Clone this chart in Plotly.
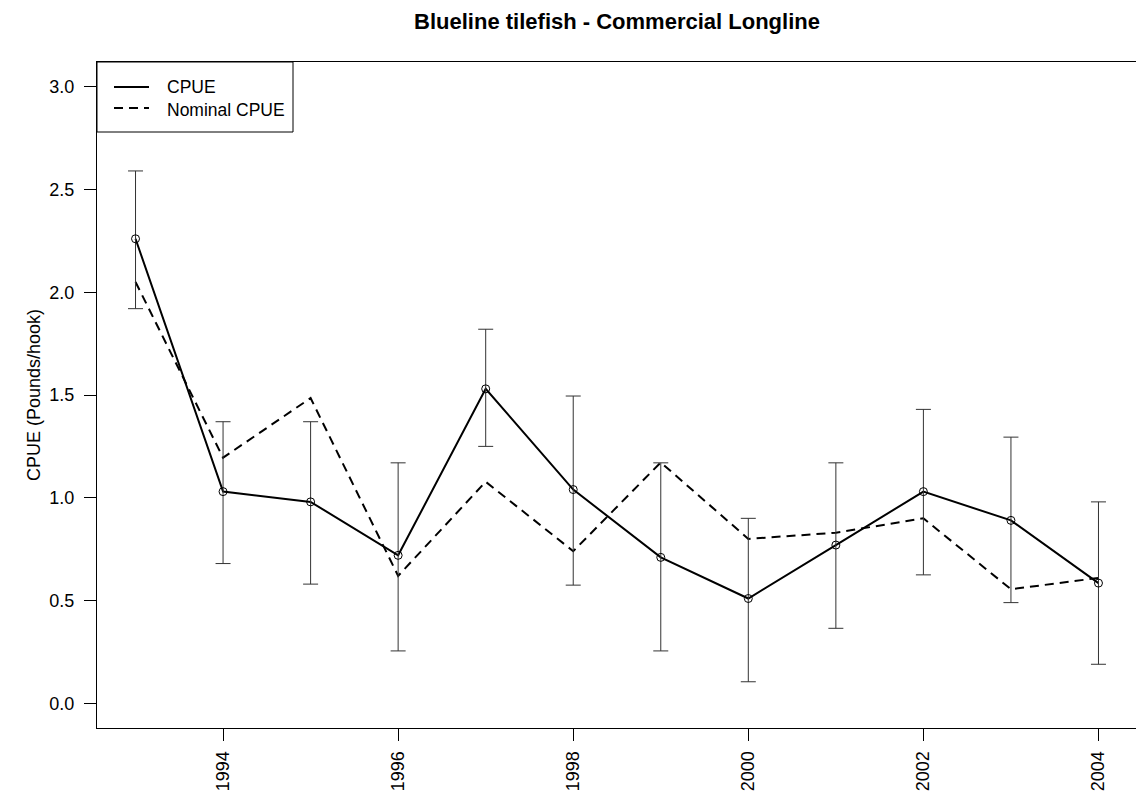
import plotly.graph_objects as go

years = [1993, 1994, 1995, 1996, 1997, 1998, 1999, 2000, 2001, 2002, 2003, 2004]
cpue = [2.26, 1.03, 0.98, 0.72, 1.53, 1.04, 0.71, 0.51, 0.77, 1.03, 0.89, 0.585]
cpue_upper = [2.59, 1.37, 1.37, 1.17, 1.82, 1.495, 1.17, 0.90, 1.17, 1.43, 1.295, 0.98]
cpue_lower = [1.92, 0.68, 0.58, 0.255, 1.25, 0.575, 0.255, 0.105, 0.365, 0.625, 0.49, 0.19]
nominal = [2.05, 1.195, 1.485, 0.62, 1.078, 0.74, 1.172, 0.80, 0.83, 0.90, 0.555, 0.61]

x_ticks = [1994, 1996, 1998, 2000, 2002, 2004]
y_ticks = [0.0, 0.5, 1.0, 1.5, 2.0, 2.5, 3.0]
legend_labels = ["CPUE", "Nominal CPUE"]

err_plus = [u - c for u, c in zip(cpue_upper, cpue)]
err_minus = [c - l for c, l in zip(cpue, cpue_lower)]

FONT = "Liberation Sans, Arial, sans-serif"
DASH = "9px,6px"

# The page body adds an 8px margin; figure sized so the plot lands where the reference has it
W, H = 1136, 789
ML, MR, MT, MB = 89, 7, 54, 69
PW, PH = W - ML - MR, H - MT - MB


def px_x(dx):
    return dx / PW


def px_y(dy):
    return 1 - dy / PH


fig = go.Figure()
fig.add_trace(go.Scatter(
    x=years, y=cpue, mode="lines", name=legend_labels[0],
    line=dict(color="black", width=2),
))
fig.add_trace(go.Scatter(
    x=years, y=nominal, mode="lines", name=legend_labels[1],
    line=dict(color="black", width=2, dash=DASH),
))
fig.add_trace(go.Scatter(
    x=years, y=cpue, mode="markers", name="CPUE points",
    marker=dict(symbol="circle-open", size=8, color="black", line=dict(width=1)),
    error_y=dict(type="data", symmetric=False, array=err_plus, arrayminus=err_minus,
                 color="#333333", thickness=1, width=7.5),
))

# Legend box (R style, top-left)
shapes = [
    dict(type="rect", xref="paper", yref="paper", x0=0, x1=px_x(196),
         y0=px_y(70), y1=1, line=dict(color="black", width=1), fillcolor="white",
         layer="above"),
    dict(type="line", xref="paper", yref="paper", x0=px_x(17), x1=px_x(52),
         y0=px_y(25), y1=px_y(25), line=dict(color="black", width=2), layer="above"),
    dict(type="line", xref="paper", yref="paper", x0=px_x(17), x1=px_x(52),
         y0=px_y(46), y1=px_y(46), line=dict(color="black", width=2, dash=DASH),
         layer="above"),
]
annotations = [
    dict(text=legend_labels[0], xref="paper", yref="paper", x=px_x(68), y=px_y(25),
         xanchor="left", yanchor="middle", showarrow=False,
         font=dict(size=17.5, family=FONT, color="black")),
    dict(text=legend_labels[1], xref="paper", yref="paper", x=px_x(68), y=px_y(48),
         xanchor="left", yanchor="middle", showarrow=False,
         font=dict(size=17.5, family=FONT, color="black")),
    dict(text="CPUE (Pounds/hook)", xref="paper", yref="paper",
         x=0, y=0.5, xshift=-75, textangle=-90, showarrow=False,
         font=dict(size=18, family=FONT, color="black")),
]

fig.update_layout(
    width=W, height=H,
    margin=dict(l=ML, r=MR, t=MT, b=MB, autoexpand=False),
    paper_bgcolor="white", plot_bgcolor="white",
    font=dict(family=FONT, size=17, color="black"),
    title=dict(text="<b>Blueline tilefish - Commercial Longline</b>",
               x=(ML + PW / 2) / W, xanchor="center", y=1 - 13 / H, yanchor="middle",
               font=dict(size=22, family=FONT)),
    showlegend=False,
    xaxis=dict(range=[1992.56, 2004.44], tickmode="array", tickvals=x_ticks,
               ticktext=[str(t) for t in x_ticks], tickangle=-90,
               ticks="outside", ticklen=12, tickcolor="black",
               showline=True, linecolor="black", linewidth=1, mirror=True,
               showgrid=False, zeroline=False, tickfont=dict(size=18),
               ticklabelstandoff=3, automargin=False),
    yaxis=dict(range=[-0.12, 3.12], tickmode="array", tickvals=y_ticks,
               ticktext=[f"{t:.1f}" for t in y_ticks],
               ticks="outside", ticklen=12, tickcolor="black",
               showline=True, linecolor="black", linewidth=1, mirror=True,
               showgrid=False, zeroline=False, tickfont=dict(size=18),
               ticklabelstandoff=6, automargin=False),
    shapes=shapes,
    annotations=annotations,
)

fig.write_html("out.html")
